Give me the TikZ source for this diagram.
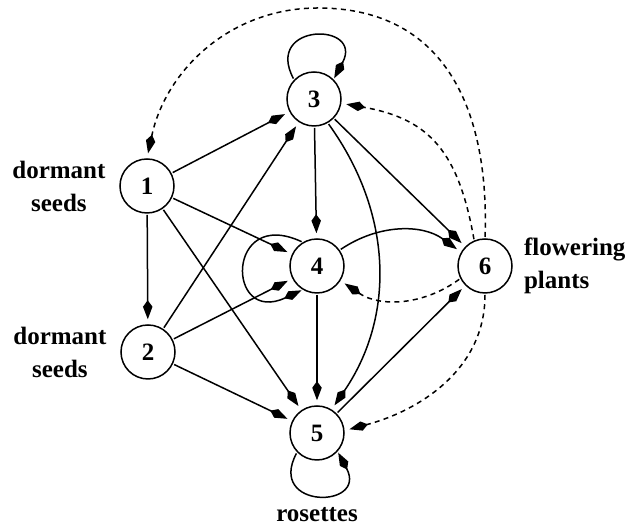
\documentclass[tikz,border=0pt]{standalone}
\usepackage{fontspec}
\setmainfont{Liberation Serif}
\usetikzlibrary{arrows.meta,positioning}
\tikzset{stage/.style={circle,draw,line width=0.6pt,minimum size=21.6pt,inner sep=0pt,font=\bfseries},
  lab/.style={font=\bfseries\fontsize{10}{13.2}\selectfont},
  link/.style={line width=0.6pt,shorten >=2pt,shorten <=0.5pt,-{Kite[length=7.6pt,width=3.8pt,inset=2.6pt]}},
  back/.style={link,dash pattern=on 2pt off 1.7pt}}
\begin{document}
\begin{tikzpicture}[x=0.4pt,y=0.4pt]
\useasboundingbox (0,0) rectangle (628,524);
\foreach \X/\Y [count=\Z] in {147/338,148/172,314/425,317/258,317/91,485/258}
  \node[stage] (S-\Z) at (\X,\Y) {\Z};
\node[lab,align=center,left=2pt of S-1] (L-1) {dormant\\seeds};
\node[lab,align=center,left=2pt of S-2] (L-2) {dormant\\seeds};
\node[lab,align=left,right=1pt of S-6] (L-6) {flowering\\plants};
\node[lab,below=15pt of S-5] (L-5) {rosettes};
\coordinate (T-6) at (318,516);
\foreach \A/\B in {1/2,1/3,1/4,1/5,2/3,2/4,2/5,3/4,3/6,4/5,5/6}
  \draw[link] (S-\A) -- (S-\B);
\draw[link] (S-3.-60) to[bend left=35] (S-5.58);
\draw[link] (S-4.35) to[bend left=35] (S-6.150);
\draw[link,shorten >=0.5pt] (S-3.136) .. controls +(118:26pt) and +(62:26pt) .. (S-3.45);
\draw[link,shorten >=0.5pt] (S-4.121) .. controls +(155:34pt) and +(205:34pt) .. (S-4.239);
\draw[link,shorten >=0.5pt] (S-5.224) .. controls +(-118:26pt) and +(-62:26pt) .. (S-5.318);
%% dashed returns from 6
\draw[back] (S-6.north) to[out=88,in=0,looseness=1.15] (T-6) to[out=180,in=78] (S-1.north);
\draw[back] (S-6.113) to[out=100,in=-10,looseness=1.2] (S-3.-9);
\draw[back] (S-6.207) to[bend left=35] (S-4.-32);
\draw[back] (S-6.south) to[out=-90,in=15] (S-5.5);
\end{tikzpicture}
\end{document}
